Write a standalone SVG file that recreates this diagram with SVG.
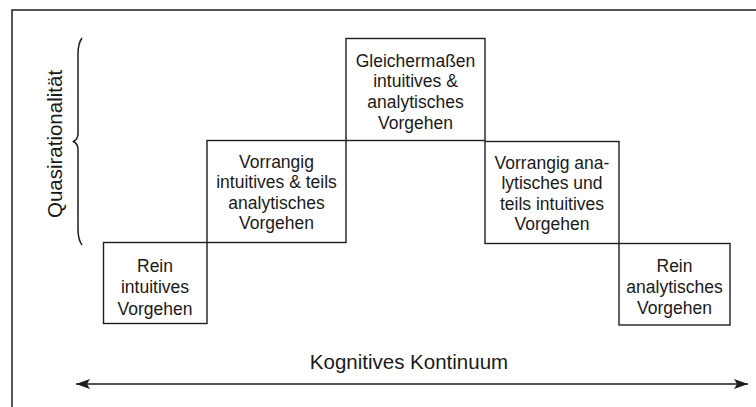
<svg xmlns="http://www.w3.org/2000/svg" width="756" height="407" viewBox="0 0 756 407">
<style>
.box{fill:#fff;stroke:#1e1e1e;stroke-width:1.4}
.t{font-family:"Liberation Sans",Arial,sans-serif;font-size:17.5px;fill:#1a1a1a;text-anchor:middle}
.lbl{font-family:"Liberation Sans",Arial,sans-serif;font-size:20.5px;fill:#1a1a1a;text-anchor:middle}
.ln{fill:none;stroke:#1e1e1e;stroke-width:1.5}
</style>
<defs>
<marker id="ah" viewBox="0 0 14 10" refX="14" refY="5" markerWidth="14" markerHeight="10" markerUnits="userSpaceOnUse" orient="auto-start-reverse">
<path d="M0,0 L14,5 L0,10 L3,5 Z" fill="#1e1e1e"/>
</marker>
</defs>
<rect width="756" height="407" fill="#fff"/>
<path class="ln" d="M12,407 V10 H756"/>
<g id="axis-y">
<path class="ln" d="M82,38 C79,42 78,47 78,54 V134 C78,138 76,140 73.5,141.5 C76,143 78,145 78,149 V229 C78,236 79,241 82,245" stroke-width="1.3"/>
<text class="lbl" transform="translate(62,144) rotate(-90)" font-size="20">Quasirationalität</text>
</g>
<g id="n1">
<rect class="box" x="103.5" y="242.5" width="103.5" height="81"/>
<text class="t" x="155" y="271.5">Rein</text>
<text class="t" x="155" y="293">intuitives</text>
<text class="t" x="155" y="314.5">Vorgehen</text>
</g>
<g id="n2">
<rect class="box" x="207" y="140.5" width="139" height="102"/>
<text class="t" x="276.5" y="168">Vorrangig</text>
<text class="t" x="276.5" y="188">intuitives &amp; teils</text>
<text class="t" x="276.5" y="208.5">analytisches</text>
<text class="t" x="276.5" y="229">Vorgehen</text>
</g>
<g id="n3">
<rect class="box" x="346" y="38.5" width="139" height="102"/>
<text class="t" x="415.5" y="66.5">Gleichermaßen</text>
<text class="t" x="415.5" y="87">intuitives &amp;</text>
<text class="t" x="415.5" y="108">analytisches</text>
<text class="t" x="415.5" y="128.5">Vorgehen</text>
</g>
<g id="n4">
<rect class="box" x="485" y="141.5" width="134" height="102"/>
<text class="t" x="552" y="168.5">Vorrangig ana-</text>
<text class="t" x="552" y="189">lytisches und</text>
<text class="t" x="552" y="209.5">teils intuitives</text>
<text class="t" x="552" y="230">Vorgehen</text>
</g>
<g id="n5">
<rect class="box" x="619" y="243.5" width="111" height="81.5"/>
<text class="t" x="674.5" y="271.5">Rein</text>
<text class="t" x="674.5" y="293">analytisches</text>
<text class="t" x="674.5" y="314">Vorgehen</text>
</g>
<g id="connectors">
<line class="ln" x1="76" y1="384" x2="748" y2="384" marker-start="url(#ah)" marker-end="url(#ah)"/>
<text class="lbl" x="409" y="369">Kognitives Kontinuum</text>
</g>
</svg>
